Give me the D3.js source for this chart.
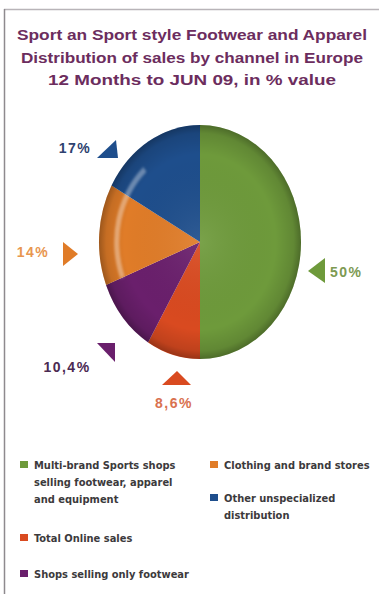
<!DOCTYPE html>
<html>
<head>
<meta charset="utf-8">
<script src="https://cdn.jsdelivr.net/npm/d3@7"></script>
<style>
  body { margin: 0; background: #fff; }
  svg { display: block; }
</style>
</head>
<body>
<div id="chart"></div>
<script>
// channels, shares (% value) and colours, in the order the pie is drawn clockwise from 12 o'clock
var channels = ["Multi-brand Sports shops selling footwear, apparel and equipment",
                "Total Online sales",
                "Shops selling only footwear",
                "Clothing and brand stores",
                "Other unspecialized distribution"];
var shares = [50, 8.6, 10.4, 14, 17];
var shareLabels = ["50%", "8,6%", "10,4%", "14%", "17%"];
var colors = ["#6e9a3b", "#d94a20", "#6a1f6c", "#e07c28", "#1e4e8c"];
var labelColors = ["#7d9a52", "#d9714f", "#4b2a52", "#e8964f", "#2d426f"];

var titleLines = ["Sport an Sport style Footwear and Apparel",
                  "Distribution of sales by channel in Europe",
                  "12 Months to JUN 09, in % value"];
var titleWidths = [350, 342, 288];

var width = 379, height = 599;

var svg = d3.select("#chart")
    .append("svg")
    .attr("width", width)
    .attr("height", height);

// frame
svg.append("line").attr("x1", 4).attr("x2", width).attr("y1", 9.5).attr("y2", 9.5)
    .attr("stroke", "#b8b4b8").attr("stroke-width", 1.5);
svg.append("line").attr("x1", 4.5).attr("x2", 4.5).attr("y1", 9).attr("y2", 594)
    .attr("stroke", "#8e8a8e").attr("stroke-width", 1.5);

// title
svg.append("g").selectAll("text")
    .data(titleLines)
    .enter()
    .append("text")
    .attr("x", 192)
    .attr("y", function(d, i){ return 40 + i * 22.5; })
    .attr("text-anchor", "middle")
    .attr("textLength", function(d, i){ return titleWidths[i]; })
    .attr("lengthAdjust", "spacingAndGlyphs")
    .style("font-family", "Liberation Sans, Arial, sans-serif")
    .style("font-weight", "bold")
    .style("font-size", "14px")
    .style("fill", "#6c2d5e")
    .text(function(d){ return d; });

// pie (elliptic, drawn in a unit circle then stretched)
var cx = 200, cy = 242, rx = 101, ry = 117;

var defs = svg.append("defs");
var shade = defs.append("radialGradient").attr("id", "shade");
shade.append("stop").attr("offset", "0%").attr("stop-color", "#fff").attr("stop-opacity", 0.08);
shade.append("stop").attr("offset", "75%").attr("stop-color", "#000").attr("stop-opacity", 0);
shade.append("stop").attr("offset", "93%").attr("stop-color", "#000").attr("stop-opacity", 0.12);
shade.append("stop").attr("offset", "100%").attr("stop-color", "#000").attr("stop-opacity", 0.3);
defs.append("filter").attr("id", "blur")
    .append("feGaussianBlur").attr("stdDeviation", 0.012);

var pie = d3.pie().sort(null).value(function(d){ return d; });
var arcs = pie(shares);
var arc = d3.arc().innerRadius(0).outerRadius(1);

var pieG = svg.append("g")
    .attr("transform", "translate(" + cx + "," + cy + ") scale(" + rx + "," + ry + ")");

pieG.selectAll(".slice")
    .data(arcs)
    .enter()
    .append("path")
    .attr("class", "slice")
    .attr("d", arc)
    .style("fill", function(d, i){ return colors[i]; });

pieG.append("circle").attr("r", 1).style("fill", "url(#shade)");

// glossy highlight on the left rim
var gloss = d3.arc().innerRadius(0.8).outerRadius(0.85)
    .startAngle(Math.PI * 2 * 0.69).endAngle(Math.PI * 2 * 0.885);
pieG.append("path")
    .attr("d", gloss)
    .attr("filter", "url(#blur)")
    .style("fill", "#fff")
    .style("opacity", 0.35);

// value labels with pointers (placed freehand around the pie, as in the original)
var labelLayout = [
    {tri: [[325,258],[308,271],[325,283]], x: 330, y: 277, anchor: "start"},
    {tri: [[177,371],[162,385],[191,385]], x: 174, y: 408, anchor: "middle"},
    {tri: [[97,343],[115,343],[115,362]], x: 67, y: 372, anchor: "middle"},
    {tri: [[63,242],[78,254],[63,266]], x: 33, y: 257, anchor: "middle"},
    {tri: [[97,158],[118,158],[116,140]], x: 75, y: 153, anchor: "middle"}
];

var labels = svg.append("g").selectAll("g")
    .data(arcs)
    .enter()
    .append("g");

labels.append("path")
    .attr("d", function(d, i){ return "M" + labelLayout[i].tri.join("L") + "Z"; })
    .style("fill", function(d, i){ return colors[i]; });

labels.append("text")
    .attr("x", function(d, i){ return labelLayout[i].x; })
    .attr("y", function(d, i){ return labelLayout[i].y; })
    .attr("text-anchor", function(d, i){ return labelLayout[i].anchor; })
    .style("font-family", "Liberation Sans, Arial, sans-serif")
    .style("font-weight", "bold")
    .style("font-size", "14px")
    .style("letter-spacing", "1.5px")
    .style("fill", function(d, i){ return labelColors[i]; })
    .text(function(d, i){ return shareLabels[i]; });

// legend
var legendLines = [
    ["Multi-brand Sports shops", "selling footwear, apparel", "and equipment"],
    ["Total Online sales"],
    ["Shops selling only footwear"],
    ["Clothing and brand stores"],
    ["Other unspecialized", "distribution"]
];
var legendPos = [[20, 465], [20, 538], [20, 574], [210, 465], [210, 498]];

var legend = svg.append("g").selectAll("g")
    .data(channels)
    .enter()
    .append("g")
    .attr("transform", function(d, i){ return "translate(" + legendPos[i][0] + "," + legendPos[i][1] + ")"; });

legend.append("rect")
    .attr("x", 0).attr("y", -4)
    .attr("width", 8).attr("height", 7)
    .style("fill", function(d, i){ return colors[i]; });

legend.append("text")
    .attr("y", 4)
    .style("font-family", "'DejaVu Sans Condensed', 'DejaVu Sans', sans-serif")
    .style("font-stretch", "condensed")
    .style("font-weight", "bold")
    .style("font-size", "11px")
    .style("fill", "#3c3a3c")
    .selectAll("tspan")
    .data(function(d, i){ return legendLines[i]; })
    .enter()
    .append("tspan")
    .attr("x", 14)
    .attr("dy", function(d, j){ return j === 0 ? 0 : 17; })
    .text(function(d){ return d; });
</script>
</body>
</html>
